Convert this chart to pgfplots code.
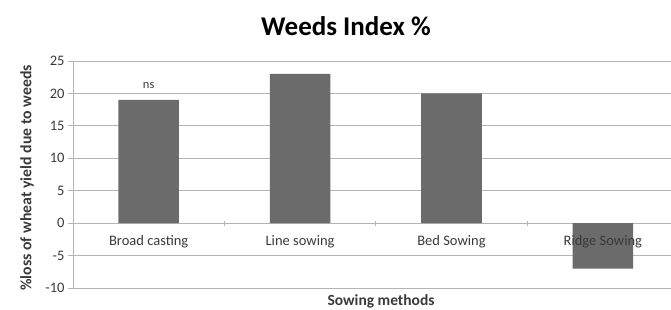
\documentclass[border=0pt]{standalone}
\usepackage{pgfplots}
\pgfplotsset{compat=1.18}
\usepackage{fontspec}
\setmainfont{Carlito}
\definecolor{barc}{HTML}{6B6B6B}
\definecolor{gridc}{HTML}{B4B4B4}
\definecolor{txt}{HTML}{3A3A3A}
\tikzset{xlab/.style={font=\fontsize{14.5}{16}\selectfont, text=txt, anchor=north, yshift=-9pt}}
\begin{document}
\begin{tikzpicture}[x=1pt,y=1pt]
\path[use as bounding box] (0,0) rectangle (671,309);
\begin{axis}[
  at={(73pt,21pt)}, anchor=south west,
  scale only axis, width=598pt, height=227pt,
  xmin=-0.5, xmax=3.45, ymin=-10, ymax=25,
  ytick={-10,-5,0,5,10,15,20,25},
  ymajorgrids, grid style={gridc, line width=0.8pt},
  axis x line=middle, axis y line=left,
  hide obscured x ticks=false,
  axis line style={gridc, line width=0.8pt, -},
  xtick={0,1,2,3},
  xticklabels={},
  major x tick style={draw=none},
  minor xtick={0.5,1.5,2.5},
  minor x tick style={gridc, line width=0.8pt},
  minor tick length=5pt,
  y tick label style={font=\fontsize{14.5}{16}\selectfont, text=txt},
  /pgf/number format/assume math mode=true,
  major y tick style={gridc, line width=0.8pt},
  major tick length=5pt,
  ytick align=outside,
  clip=false,
]
\addplot[ybar, bar width=0.4, fill=barc, draw=none] coordinates {(0,19) (1,23) (2,20) (3,-7)};
\node[font=\fontsize{12.5}{14}\selectfont, text=txt] at (axis cs:0,21.2) {ns};
\node[xlab] at (axis cs:0,0) {Broad casting};
\node[xlab] at (axis cs:1,0) {Line sowing};
\node[xlab] at (axis cs:2,0) {Bed Sowing};
\node[xlab] at (axis cs:3,0) {Ridge Sowing};
\end{axis}
\node[font=\bfseries\fontsize{27}{30}\selectfont, text=black] at (346,283) {Weeds Index \%};
\node[font=\bfseries\fontsize{15.8}{17}\selectfont, text=txt, rotate=90] at (27,131) {\%loss of wheat yield due to weeds};
\node[font=\bfseries\fontsize{15.5}{17}\selectfont, text=txt] at (381,8) {Sowing methods};
\end{tikzpicture}
\end{document}
